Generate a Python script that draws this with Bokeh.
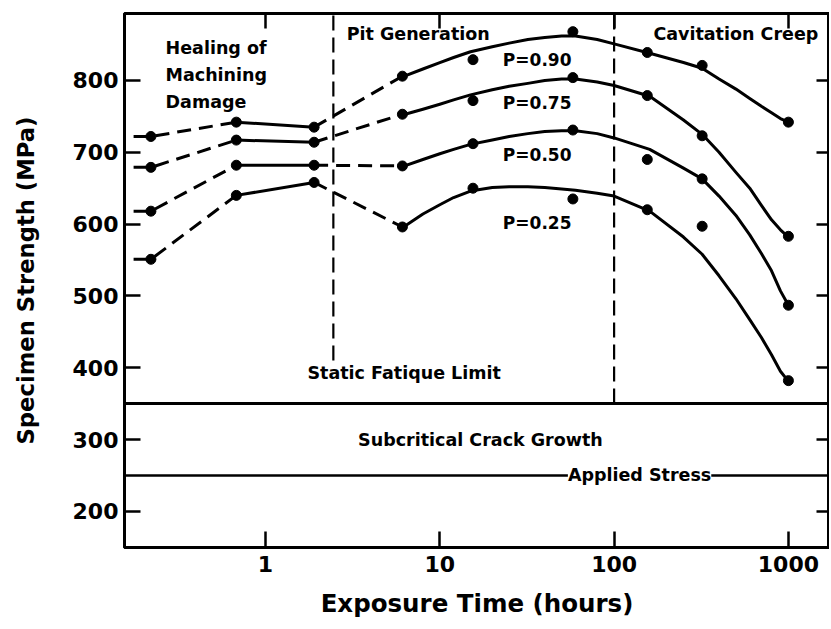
from bokeh.plotting import figure
from bokeh.models import (LogAxis, LinearAxis, FixedTicker, Label, Span, Range1d,
                          NumeralTickFormatter)
from bokeh.embed import file_html
from bokeh.resources import INLINE

# ---------------- data ----------------
x_ticks = [1, 10, 100, 1000]
y_ticks = [200, 300, 400, 500, 600, 700, 800]

series_labels = ["P=0.90", "P=0.75", "P=0.50", "P=0.25"]

# healing-of-machining-damage stage (hours)
early_hours = [0.22, 0.68, 1.9]
early_090 = [722, 742, 735]
early_075 = [679, 717, 714]
early_050 = [618, 682, 682]
early_025 = [551, 640, 658]

# pit generation / cavitation creep stage (hours)
pit_hours = [6.1, 15.5, 58, 155, 320, 1000]
pit_090 = [806, 829, 868, 839, 821, 742]
pit_075 = [753, 772, 804, 779, 723, 583]
pit_050 = [681, 712, 731, 690, 663, 487]
pit_025 = [596, 650, 635, 620, 597, 382]

# smooth fitted curves as drawn in the reference
curve_hours = [6.1, 8, 10, 12, 15, 20, 25, 32, 40, 50, 60, 80, 100,
               160, 250, 320, 400, 500, 600, 700, 800, 900, 1000]
curve_090 = [805, 816, 825, 832, 840, 847, 852, 857, 860, 862, 862, 857, 851,
             838, 825, 817, 802, 788, 775, 764, 755, 747, 742]
curve_075 = [752, 760, 767, 773, 780, 787, 792, 796, 800, 802, 802, 798, 793,
             778, 745, 725, 700, 672, 650, 626, 606, 592, 582]
curve_050 = [680, 690, 698, 704, 711, 717, 722, 726, 729, 730, 730, 726, 720,
             704, 678, 663, 639, 612, 585, 559, 535, 507, 487]
curve_025 = [595, 614, 627, 637, 646, 651, 652, 652, 651, 649, 647, 643, 639,
             618, 582, 558, 528, 496, 467, 442, 418, 395, 381]

stub_hours = 0.175          # start of the short dash left of the first points
static_fatigue_limit = 350  # MPa
applied_stress = 250        # MPa
boundary_hours = [2.45, 100]
boundary_bottoms = [410, 350]

# ---------------- figure ----------------
X0, X1 = 0.1552, 1721
Y0, Y1 = 149.6, 893.3
FONT = "DejaVu Sans"

p = figure(width=829, height=627, x_axis_type="log",
           x_range=Range1d(X0, X1), y_range=Range1d(Y0, Y1),
           output_backend="svg", toolbar_location=None,
           min_border_left=124, min_border_right=0,
           min_border_top=13, min_border_bottom=80)
p.background_fill_color = "white"
p.border_fill_color = "white"
p.outline_line_color = "black"
p.outline_line_width = 3
p.xgrid.visible = False
p.ygrid.visible = False

xa = p.xaxis[0]
xa.ticker = FixedTicker(ticks=x_ticks)
xa.formatter = NumeralTickFormatter(format="0")
xa.axis_label = "Exposure Time (hours)"
ya = p.yaxis[0]
ya.ticker = FixedTicker(ticks=y_ticks)
ya.axis_label = "Specimen Strength (MPa)"
for ax in (xa, ya):
    ax.axis_line_width = 3
    ax.axis_line_color = "black"
    ax.major_tick_line_width = 2.5
    ax.major_tick_line_color = "black"
    ax.major_tick_in = 16
    ax.major_tick_out = 0
    ax.minor_tick_line_color = None
    ax.major_label_text_font = FONT
    ax.major_label_text_font_style = "bold"
    ax.major_label_text_font_size = "22px"
    ax.major_label_text_color = "black"
    ax.axis_label_text_font = FONT
    ax.axis_label_text_font_style = "bold"
    ax.axis_label_text_color = "black"
xa.axis_label_text_font_size = "24.5px"
ya.axis_label_text_font_size = "22.7px"
xa.major_label_standoff = 8
xa.axis_label_standoff = 14
ya.major_label_standoff = 6
ya.axis_label_standoff = 31

top = LogAxis(ticker=FixedTicker(ticks=x_ticks), major_label_text_font_size="1px",
              major_label_text_alpha=0, major_label_standoff=0,
              major_tick_in=15, major_tick_out=0,
              major_tick_line_width=2.5, minor_tick_line_color=None,
              axis_line_width=3)
right = LinearAxis(ticker=FixedTicker(ticks=y_ticks), major_label_text_font_size="1px",
                   major_label_text_alpha=0, major_label_standoff=0,
                   major_tick_in=13, major_tick_out=0,
                   major_tick_line_width=2.5, minor_tick_line_color=None,
                   axis_line_width=3)
p.add_layout(top, "above")
p.add_layout(right, "right")

# horizontal boundaries
p.add_layout(Span(location=static_fatigue_limit, dimension="width",
                  line_color="black", line_width=3))
p.add_layout(Span(location=applied_stress, dimension="width",
                  line_color="black", line_width=2.5))

# vertical dashed boundaries
p.segment(x0=boundary_hours, y0=boundary_bottoms, x1=boundary_hours,
          y1=[Y1, Y1], line_color="black", line_width=2.2, line_dash="15 7")

early_all = [early_090, early_075, early_050, early_025]
pit_all = [pit_090, pit_075, pit_050, pit_025]
curve_all = [curve_090, curve_075, curve_050, curve_025]

LW = 3
DASH = "14 8"
for e, pt, c in zip(early_all, pit_all, curve_all):
    p.line([stub_hours, early_hours[0], early_hours[1]], [e[0], e[0], e[1]],
           line_color="black", line_width=LW, line_dash=DASH)
    p.line(early_hours[1:], e[1:], line_color="black", line_width=LW)
    p.line([early_hours[2], pit_hours[0]], [e[2], pt[0]],
           line_color="black", line_width=LW, line_dash=DASH)
    p.line(curve_hours, c, line_color="black", line_width=LW, line_join="round")
    p.scatter(early_hours, e, size=10, color="black")
    p.scatter(pit_hours, pt, size=10, color="black")


def add_label(x, y, text, align="left", size="17.5px", bg=None):
    lab = Label(x=x, y=y, text=text, text_font=FONT, text_font_style="bold",
                text_font_size=size, text_color="black", text_align=align,
                text_baseline="middle")
    if bg is not None:
        lab.background_fill_color = bg
    p.add_layout(lab)


add_label(0.267, 845, "Healing of")
add_label(0.267, 807, "Machining")
add_label(0.267, 770, "Damage")
add_label(2.92, 865, "Pit Generation")
add_label(168, 865, "Cavitation Creep")
add_label(23, 828, series_labels[0], size="17px")
add_label(23, 769, series_labels[1], size="17px")
add_label(23, 696, series_labels[2], size="17px")
add_label(23, 601, series_labels[3], size="17px")
add_label(1.74, 392, "Static Fatique Limit")
add_label(17.1, 300, "Subcritical Crack Growth", align="center")
add_label(140, applied_stress, "Applied Stress", align="center", bg="white")

open("out.html", "w").write(file_html(p, INLINE))
